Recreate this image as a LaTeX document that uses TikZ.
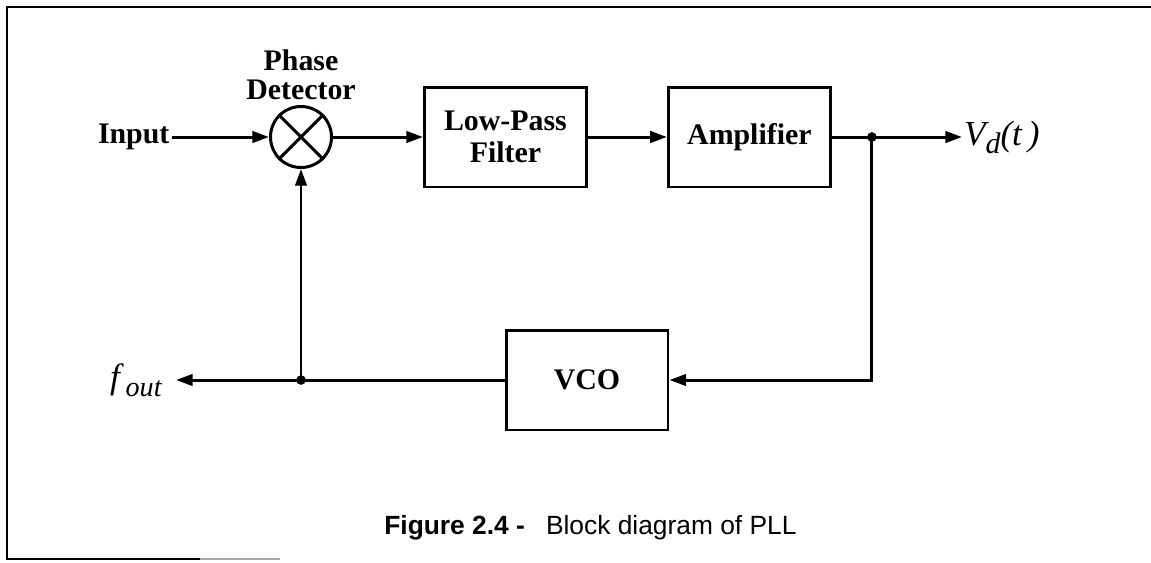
\documentclass[tikz,border=0pt]{standalone}
\usepackage{fontspec}
\setmainfont{Liberation Serif}
\newfontfamily\capfont{Liberation Sans}
\usepackage{tikz}
\usetikzlibrary{arrows.meta, positioning, calc}

\newcommand\lblfont{\fontsize{17}{18}\selectfont\bfseries}
\newcommand\sigfont{\fontsize{20}{22}\selectfont\itshape}

\begin{document}
\begin{tikzpicture}[
    x=0.02cm, y=-0.02cm,
    node distance=1.6cm,
    blk/.style={rectangle, draw, line width=1.7pt, minimum width=3.24cm, minimum height=2cm, align=center, font=\lblfont},
    mixer/.style={circle, draw, line width=1.7pt, minimum size=1.22cm, inner sep=0pt},
    lbl/.style={inner sep=1pt, font=\lblfont},
    sig/.style={line width=1.7pt, -{Triangle[length=9.5pt,width=6.5pt]}},
    wire/.style={line width=1.7pt},
    jn/.style={circle, fill, inner sep=0pt, minimum size=5.5pt}
]
    \useasboundingbox (0,0) rectangle (1151,562);
    % frame
    \draw[line width=1.5pt] (1151,7) -- (7,7) -- (7,559) -- (200,559);
    \draw[line width=1pt, black!35] (200,559) -- (280,559);

    \node[mixer] (pd) at (301,137) {};
    \draw[wire] (pd.north west) -- (pd.south east) (pd.north east) -- (pd.south west);
    \node[lbl, align=center, above=2pt of pd, font=\fontsize{17}{16}\selectfont\bfseries] (pdlbl) {Phase\\Detector};
    \node[lbl, left=1.95cm of pd] (in) {Input};
    \node[blk, right=1.8cm of pd] (lpf) {Low-Pass\\Filter};
    \node[blk, right=1.58cm of lpf] (amp) {Amplifier};
    \coordinate[right=0.8cm of amp.east] (tap);
    \node[lbl, font=\sigfont, anchor=west] (vd) at (962,137) {V\raisebox{-0.5ex}{\fontsize{17}{17}\selectfont d}(t\,)};
    \node[blk] (vco) at (587,380) {VCO};
    \coordinate (fb) at (pd |- vco);
    \node[lbl, font=\sigfont, anchor=east, inner xsep=8pt] (fout) at (176,380) {f\,\raisebox{-0.5ex}{\fontsize{16}{16}\selectfont out}};

    \draw[sig] (in) -- (pd);
    \draw[sig] (pd) -- (lpf);
    \draw[sig] (lpf) -- (amp);
    \draw[sig] (amp) -- (vd);
    \draw[sig] (tap) |- (vco);
    \draw[sig] (vco) -- (fout);
    \draw[sig] (fb) -- (pd);
    \node[jn] at (tap) {};
    \node[jn] at (fb) {};

    \node[font=\capfont\fontsize{15}{18}\selectfont, anchor=west, inner sep=0pt] (cap) at (384,528) {\textbf{Figure 2.4 -}\hspace{0.8em}Block diagram of PLL};
\end{tikzpicture}
\end{document}
